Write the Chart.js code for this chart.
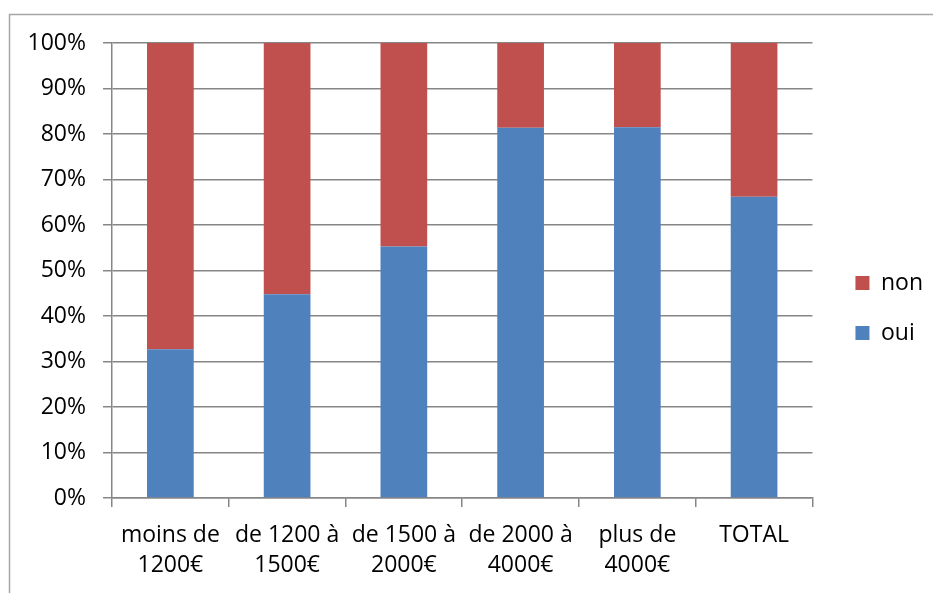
<!DOCTYPE html>
<html>
<head>
<meta charset="utf-8">
<script src="https://cdn.jsdelivr.net/npm/chart.js@4"></script>
<style>
html,body{margin:0;padding:0;background:#fff;}
#wrap{width:933px;height:593px;position:relative;}
</style>
</head>
<body>
<div id="wrap"><canvas id="c" width="933" height="593"></canvas></div>
<script>
const categories = [["moins de","1200€"],["de 1200 à","1500€"],["de 1500 à","2000€"],["de 2000 à","4000€"],["plus de","4000€"],"TOTAL"];
const ouiValues = [32.7, 44.8, 55.3, 81.4, 81.5, 66.2];
const nonValues = [67.3, 55.2, 44.7, 18.6, 18.5, 33.8];
const seriesNames = ["oui", "non"];
const yTicks = [0,10,20,30,40,50,60,70,80,90,100];

const FONT = "'Open Sans', 'Liberation Sans', sans-serif";
const GRID = '#868686';

const frame = {
  id: 'frame',
  beforeDraw(chart) {
    const ctx = chart.ctx;
    ctx.save();
    ctx.fillStyle = '#fff';
    ctx.fillRect(0, 0, chart.width, chart.height);
    ctx.strokeStyle = '#a6a6a6';
    ctx.lineWidth = 1.5;
    ctx.strokeRect(9.5, 14.5, 1000, 1000);
    ctx.restore();
  }
};

const legendPlace = {
  id: 'legendPlace',
  afterLayout(chart) {
    const lg = chart.legend;
    if (!lg) return;
    const dx = 16, dy = -10;
    lg.left += dx; lg.right += dx;
    lg.top += dy; lg.bottom += dy;
  }
};

new Chart(document.getElementById('c'), {
  type: 'bar',
  data: {
    labels: categories,
    datasets: [
      { label: seriesNames[0], data: ouiValues, backgroundColor: '#4F81BD' },
      { label: seriesNames[1], data: nonValues, backgroundColor: '#C0504D' }
    ]
  },
  plugins: [frame, legendPlace],
  options: {
    responsive: false,
    animation: false,
    devicePixelRatio: 1,
    layout: { padding: { top: 43, right: 16, bottom: 0, left: 0 } },
    datasets: { bar: { barPercentage: 0.4, categoryPercentage: 1.0 } },
    plugins: {
      tooltip: { enabled: false },
      legend: {
        position: 'right',
        reverse: true,
        labels: {
          boxWidth: 14, boxHeight: 14, padding: 27,
          color: '#000',
          font: { family: FONT, size: 23 }
        }
      }
    },
    scales: {
      x: {
        stacked: true,
        afterFit(s) { s.height = 95; },
        grid: { display: true, drawOnChartArea: false, drawTicks: true, tickLength: 9, color: GRID, lineWidth: 1.5, offset: true },
        border: { display: true, color: GRID, width: 1.5 },
        ticks: { color: '#000', font: { family: FONT, size: 23, lineHeight: 1.32 }, padding: 13, maxRotation: 0, autoSkip: false }
      },
      y: {
        stacked: true,
        min: 0, max: 100,
        afterFit(s) { s.width = 112; },
        afterBuildTicks(s) { s.ticks = yTicks.map(v => ({ value: v })); },
        grid: { color: GRID, lineWidth: 1.5, tickLength: 9 },
        border: { display: true, color: GRID, width: 1.5 },
        ticks: { color: '#000', font: { family: FONT, size: 23 }, padding: 17, callback: v => v + '%' }
      }
    }
  }
});
</script>
</body>
</html>
